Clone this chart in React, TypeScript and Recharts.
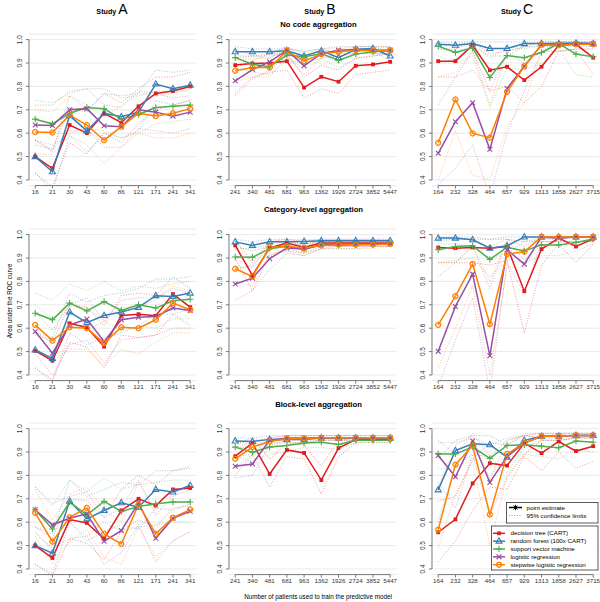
import React from 'react';
import { LineChart, Line, XAxis, YAxis, CartesianGrid, ReferenceLine } from 'recharts';

// tick labels (training set sizes) per study
const nA = ['16', '21', '30', '43', '60', '86', '121', '171', '241', '341'];
const nB = ['241', '340', '481', '681', '963', '1362', '1926', '2724', '3852', '5447'];
const nC = ['164', '232', '328', '464', '657', '929', '1313', '1858', '2627', '3715'];

const methods = [
  'decision tree (CART)',
  'random forest (100x CART)',
  'support vector machine',
  'logistic regression',
  'stepwise logistic regression',
];
const colors = ['#E41A1C', '#377EB8', '#4DAF4A', '#984EA3', '#FF7F00'];
const yTicks = [0.4, 0.5, 0.6, 0.7, 0.8, 0.9, 1.0];
const studies = ['A', 'B', 'C'];
const aggregations = ['No code aggregation', 'Category-level aggregation', 'Block-level aggregation'];

// rows: tree, forest, svm, logistic, stepwise
// --- no code aggregation ---
const a1Est = [
  [0.50, 0.45, 0.635, 0.60, 0.685, 0.645, 0.715, 0.77, 0.78, 0.80],
  [0.50, 0.435, 0.675, 0.61, 0.685, 0.67, 0.69, 0.81, 0.79, 0.805],
  [0.66, 0.64, 0.685, 0.71, 0.705, 0.66, 0.68, 0.71, 0.715, 0.72],
  [0.635, 0.633, 0.70, 0.705, 0.632, 0.628, 0.70, 0.69, 0.673, 0.69],
  [0.605, 0.603, 0.677, 0.635, 0.57, 0.628, 0.685, 0.673, 0.685, 0.705],
];
const a1Lo = [
  [0.43, 0.37, 0.56, 0.51, 0.60, 0.56, 0.64, 0.70, 0.72, 0.74],
  [0.43, 0.35, 0.59, 0.52, 0.60, 0.58, 0.61, 0.74, 0.72, 0.74],
  [0.57, 0.55, 0.60, 0.62, 0.61, 0.58, 0.60, 0.64, 0.65, 0.66],
  [0.55, 0.53, 0.61, 0.62, 0.54, 0.54, 0.62, 0.61, 0.60, 0.62],
  [0.51, 0.51, 0.59, 0.55, 0.47, 0.54, 0.60, 0.58, 0.58, 0.60],
];
const a1Hi = [
  [0.57, 0.53, 0.71, 0.69, 0.77, 0.73, 0.79, 0.84, 0.84, 0.86],
  [0.57, 0.52, 0.76, 0.70, 0.77, 0.76, 0.77, 0.87, 0.86, 0.87],
  [0.74, 0.73, 0.77, 0.79, 0.79, 0.75, 0.76, 0.78, 0.78, 0.78],
  [0.72, 0.72, 0.78, 0.79, 0.72, 0.71, 0.78, 0.77, 0.75, 0.76],
  [0.70, 0.69, 0.76, 0.72, 0.67, 0.72, 0.77, 0.76, 0.77, 0.79],
];

const b1Est = [
  [0.891, 0.898, 0.90, 0.908, 0.795, 0.841, 0.82, 0.888, 0.894, 0.905],
  [0.948, 0.948, 0.948, 0.952, 0.93, 0.952, 0.923, 0.959, 0.962, 0.93],
  [0.923, 0.895, 0.884, 0.934, 0.927, 0.94, 0.912, 0.938, 0.948, 0.952],
  [0.824, 0.872, 0.905, 0.955, 0.888, 0.94, 0.955, 0.958, 0.955, 0.955],
  [0.867, 0.881, 0.881, 0.952, 0.908, 0.938, 0.948, 0.955, 0.952, 0.955],
];
const b1Lo = [
  [0.77, 0.84, 0.86, 0.87, 0.75, 0.79, 0.77, 0.85, 0.86, 0.87],
  [0.92, 0.93, 0.93, 0.94, 0.91, 0.94, 0.90, 0.95, 0.95, 0.91],
  [0.88, 0.86, 0.85, 0.91, 0.90, 0.92, 0.88, 0.92, 0.93, 0.94],
  [0.76, 0.83, 0.87, 0.93, 0.85, 0.92, 0.94, 0.94, 0.94, 0.94],
  [0.82, 0.84, 0.84, 0.93, 0.87, 0.92, 0.93, 0.94, 0.94, 0.94],
];
const b1Hi = [
  [0.93, 0.93, 0.94, 0.94, 0.84, 0.89, 0.87, 0.92, 0.93, 0.94],
  [0.97, 0.96, 0.96, 0.96, 0.95, 0.96, 0.94, 0.97, 0.97, 0.95],
  [0.96, 0.93, 0.92, 0.96, 0.95, 0.96, 0.94, 0.96, 0.96, 0.97],
  [0.88, 0.91, 0.94, 0.97, 0.92, 0.96, 0.97, 0.97, 0.97, 0.97],
  [0.91, 0.92, 0.92, 0.97, 0.94, 0.96, 0.96, 0.97, 0.97, 0.97],
];

const c1Est = [
  [0.908, 0.908, 0.976, 0.869, 0.884, 0.827, 0.884, 0.976, 0.98, 0.923],
  [0.98, 0.976, 0.983, 0.962, 0.962, 0.983, 0.983, 0.983, 0.985, 0.983],
  [0.972, 0.945, 0.965, 0.838, 0.932, 0.923, 0.945, 0.983, 0.938, 0.927],
  [0.514, 0.649, 0.73, 0.531, 0.791, 0.886, 0.978, 0.978, 0.983, 0.983],
  [0.559, 0.744, 0.599, 0.581, 0.777, 0.886, 0.978, 0.976, 0.98, 0.98],
];
const c1Lo = [
  [0.84, 0.84, 0.95, 0.78, 0.80, 0.73, 0.80, 0.95, 0.96, 0.85],
  [0.96, 0.95, 0.97, 0.93, 0.93, 0.97, 0.97, 0.97, 0.97, 0.97],
  [0.93, 0.90, 0.93, 0.71, 0.88, 0.87, 0.90, 0.96, 0.85, 0.84],
  [0.38, 0.45, 0.55, 0.33, 0.60, 0.78, 0.95, 0.95, 0.96, 0.96],
  [0.40, 0.61, 0.42, 0.40, 0.63, 0.73, 0.95, 0.95, 0.96, 0.96],
];
const c1Hi = [
  [0.96, 0.96, 0.99, 0.94, 0.95, 0.90, 0.95, 0.99, 0.99, 0.98],
  [0.99, 0.99, 0.99, 0.99, 0.99, 0.99, 0.99, 0.99, 0.99, 0.99],
  [0.99, 0.98, 0.99, 0.92, 0.97, 0.96, 0.98, 0.99, 0.98, 0.98],
  [0.72, 0.84, 0.87, 0.78, 0.95, 0.97, 0.99, 0.99, 0.99, 0.99],
  [0.84, 0.86, 0.95, 0.72, 0.95, 0.97, 0.99, 0.99, 0.99, 0.99],
];

// --- category-level aggregation ---
const a2Est = [
  [0.503, 0.461, 0.621, 0.603, 0.521, 0.654, 0.66, 0.653, 0.746, 0.69],
  [0.507, 0.471, 0.669, 0.624, 0.654, 0.669, 0.689, 0.739, 0.736, 0.75],
  [0.664, 0.636, 0.707, 0.674, 0.714, 0.676, 0.70, 0.686, 0.717, 0.724],
  [0.586, 0.493, 0.614, 0.639, 0.543, 0.636, 0.647, 0.65, 0.686, 0.676],
  [0.614, 0.547, 0.604, 0.60, 0.536, 0.604, 0.60, 0.636, 0.707, 0.679],
];
const a2Lo = [
  [0.43, 0.38, 0.54, 0.52, 0.43, 0.57, 0.56, 0.57, 0.66, 0.61],
  [0.43, 0.37, 0.58, 0.53, 0.56, 0.58, 0.61, 0.66, 0.66, 0.68],
  [0.57, 0.55, 0.62, 0.59, 0.63, 0.59, 0.61, 0.60, 0.64, 0.64],
  [0.49, 0.40, 0.53, 0.55, 0.45, 0.55, 0.56, 0.57, 0.60, 0.60],
  [0.52, 0.46, 0.51, 0.51, 0.44, 0.51, 0.49, 0.54, 0.58, 0.58],
];
const a2Hi = [
  [0.58, 0.54, 0.70, 0.69, 0.61, 0.74, 0.75, 0.74, 0.82, 0.77],
  [0.58, 0.56, 0.75, 0.71, 0.74, 0.75, 0.77, 0.81, 0.81, 0.82],
  [0.75, 0.72, 0.79, 0.76, 0.80, 0.76, 0.78, 0.77, 0.79, 0.80],
  [0.67, 0.59, 0.70, 0.73, 0.63, 0.72, 0.73, 0.73, 0.77, 0.75],
  [0.70, 0.64, 0.69, 0.69, 0.63, 0.69, 0.69, 0.72, 0.78, 0.76],
];

const b2Est = [
  [0.954, 0.826, 0.943, 0.964, 0.946, 0.964, 0.964, 0.964, 0.964, 0.964],
  [0.969, 0.954, 0.969, 0.969, 0.971, 0.974, 0.974, 0.974, 0.974, 0.974],
  [0.904, 0.903, 0.94, 0.95, 0.936, 0.957, 0.954, 0.957, 0.96, 0.961],
  [0.789, 0.814, 0.897, 0.943, 0.939, 0.957, 0.96, 0.96, 0.961, 0.961],
  [0.854, 0.821, 0.946, 0.95, 0.943, 0.954, 0.957, 0.957, 0.957, 0.96],
];
const b2Lo = [
  [0.90, 0.76, 0.91, 0.94, 0.92, 0.95, 0.95, 0.95, 0.95, 0.95],
  [0.95, 0.93, 0.95, 0.95, 0.96, 0.96, 0.96, 0.96, 0.96, 0.96],
  [0.86, 0.86, 0.91, 0.93, 0.91, 0.94, 0.94, 0.94, 0.95, 0.95],
  [0.72, 0.76, 0.85, 0.92, 0.91, 0.94, 0.95, 0.95, 0.95, 0.95],
  [0.80, 0.78, 0.92, 0.93, 0.92, 0.94, 0.94, 0.94, 0.94, 0.95],
];
const b2Hi = [
  [0.98, 0.88, 0.97, 0.98, 0.97, 0.98, 0.98, 0.98, 0.98, 0.98],
  [0.98, 0.97, 0.98, 0.98, 0.98, 0.98, 0.98, 0.98, 0.98, 0.98],
  [0.94, 0.94, 0.96, 0.97, 0.96, 0.97, 0.97, 0.97, 0.97, 0.97],
  [0.85, 0.87, 0.94, 0.96, 0.96, 0.97, 0.97, 0.97, 0.97, 0.97],
  [0.90, 0.86, 0.97, 0.97, 0.96, 0.97, 0.97, 0.97, 0.97, 0.97],
];

const c2Est = [
  [0.945, 0.942, 0.945, 0.942, 0.949, 0.758, 0.938, 0.985, 0.949, 0.982],
  [0.985, 0.985, 0.978, 0.942, 0.952, 0.99, 0.99, 0.99, 0.99, 0.99],
  [0.935, 0.949, 0.952, 0.894, 0.946, 0.93, 0.956, 0.956, 0.966, 0.981],
  [0.501, 0.693, 0.831, 0.482, 0.935, 0.874, 0.99, 0.985, 0.99, 0.99],
  [0.614, 0.737, 0.874, 0.617, 0.917, 0.927, 0.99, 0.99, 0.99, 0.99],
];
const c2Lo = [
  [0.88, 0.88, 0.88, 0.87, 0.89, 0.58, 0.87, 0.96, 0.88, 0.96],
  [0.96, 0.96, 0.95, 0.90, 0.92, 0.97, 0.97, 0.97, 0.97, 0.97],
  [0.88, 0.89, 0.90, 0.82, 0.89, 0.88, 0.91, 0.91, 0.93, 0.96],
  [0.35, 0.55, 0.73, 0.33, 0.88, 0.75, 0.97, 0.97, 0.97, 0.97],
  [0.43, 0.60, 0.78, 0.40, 0.86, 0.86, 0.97, 0.97, 0.97, 0.97],
];
const c2Hi = [
  [0.98, 0.98, 0.98, 0.98, 0.98, 0.89, 0.98, 0.99, 0.99, 0.99],
  [0.99, 0.99, 0.99, 0.98, 0.99, 0.99, 0.99, 0.99, 0.99, 0.99],
  [0.97, 0.98, 0.98, 0.95, 0.98, 0.97, 0.98, 0.98, 0.99, 0.99],
  [0.82, 0.88, 0.95, 0.77, 0.98, 0.95, 0.99, 0.99, 0.99, 0.99],
  [0.88, 0.88, 0.95, 0.80, 0.98, 0.97, 0.99, 0.99, 0.99, 0.99],
];

// --- block-level aggregation ---
const a3Est = [
  [0.50, 0.447, 0.611, 0.597, 0.529, 0.65, 0.70, 0.671, 0.74, 0.746],
  [0.50, 0.467, 0.69, 0.614, 0.65, 0.683, 0.664, 0.74, 0.729, 0.757],
  [0.653, 0.571, 0.686, 0.631, 0.689, 0.646, 0.667, 0.679, 0.686, 0.686],
  [0.653, 0.589, 0.617, 0.636, 0.519, 0.564, 0.683, 0.531, 0.617, 0.647],
  [0.64, 0.517, 0.621, 0.661, 0.55, 0.507, 0.676, 0.55, 0.619, 0.654],
];
const a3Lo = [
  [0.42, 0.37, 0.53, 0.51, 0.44, 0.56, 0.61, 0.58, 0.66, 0.67],
  [0.42, 0.38, 0.60, 0.52, 0.56, 0.59, 0.57, 0.66, 0.65, 0.68],
  [0.56, 0.48, 0.60, 0.54, 0.60, 0.56, 0.58, 0.59, 0.60, 0.60],
  [0.55, 0.49, 0.53, 0.54, 0.42, 0.47, 0.59, 0.43, 0.52, 0.56],
  [0.54, 0.42, 0.52, 0.57, 0.45, 0.42, 0.58, 0.45, 0.52, 0.56],
];
const a3Hi = [
  [0.58, 0.53, 0.70, 0.69, 0.62, 0.74, 0.80, 0.76, 0.82, 0.83],
  [0.58, 0.55, 0.78, 0.71, 0.74, 0.77, 0.76, 0.82, 0.82, 0.84],
  [0.75, 0.67, 0.78, 0.73, 0.79, 0.74, 0.76, 0.77, 0.78, 0.78],
  [0.75, 0.68, 0.71, 0.73, 0.62, 0.66, 0.78, 0.63, 0.71, 0.74],
  [0.74, 0.61, 0.72, 0.75, 0.65, 0.60, 0.77, 0.65, 0.72, 0.75],
];

const b3Est = [
  [0.882, 0.938, 0.806, 0.909, 0.896, 0.78, 0.917, 0.953, 0.953, 0.953],
  [0.947, 0.945, 0.954, 0.954, 0.954, 0.96, 0.96, 0.96, 0.96, 0.96],
  [0.921, 0.899, 0.921, 0.928, 0.938, 0.942, 0.932, 0.95, 0.95, 0.95],
  [0.839, 0.849, 0.95, 0.96, 0.96, 0.961, 0.961, 0.961, 0.961, 0.961],
  [0.871, 0.921, 0.945, 0.957, 0.957, 0.961, 0.961, 0.961, 0.961, 0.961],
];
const b3Lo = [
  [0.80, 0.89, 0.75, 0.88, 0.87, 0.72, 0.88, 0.94, 0.94, 0.94],
  [0.92, 0.92, 0.94, 0.94, 0.94, 0.95, 0.95, 0.95, 0.95, 0.95],
  [0.88, 0.86, 0.89, 0.90, 0.92, 0.92, 0.91, 0.94, 0.94, 0.94],
  [0.79, 0.80, 0.93, 0.95, 0.95, 0.95, 0.95, 0.95, 0.95, 0.95],
  [0.83, 0.89, 0.93, 0.94, 0.94, 0.95, 0.95, 0.95, 0.95, 0.95],
];
const b3Hi = [
  [0.93, 0.96, 0.87, 0.94, 0.93, 0.84, 0.95, 0.96, 0.96, 0.96],
  [0.96, 0.96, 0.97, 0.97, 0.97, 0.97, 0.97, 0.97, 0.97, 0.97],
  [0.95, 0.93, 0.95, 0.95, 0.96, 0.96, 0.95, 0.96, 0.96, 0.96],
  [0.88, 0.89, 0.96, 0.97, 0.97, 0.97, 0.97, 0.97, 0.97, 0.97],
  [0.91, 0.95, 0.96, 0.97, 0.97, 0.97, 0.97, 0.97, 0.97, 0.97],
];

const c3Est = [
  [0.557, 0.612, 0.766, 0.852, 0.842, 0.938, 0.895, 0.945, 0.904, 0.925],
  [0.738, 0.906, 0.935, 0.931, 0.878, 0.95, 0.967, 0.968, 0.971, 0.971],
  [0.892, 0.892, 0.921, 0.873, 0.928, 0.931, 0.925, 0.918, 0.947, 0.942],
  [0.885, 0.794, 0.947, 0.77, 0.881, 0.938, 0.967, 0.968, 0.971, 0.971],
  [0.568, 0.846, 0.928, 0.633, 0.892, 0.938, 0.967, 0.967, 0.971, 0.971],
];
const c3Lo = [
  [0.43, 0.52, 0.65, 0.75, 0.74, 0.88, 0.82, 0.90, 0.83, 0.86],
  [0.60, 0.84, 0.89, 0.88, 0.81, 0.92, 0.95, 0.95, 0.96, 0.96],
  [0.83, 0.83, 0.87, 0.80, 0.88, 0.89, 0.88, 0.87, 0.91, 0.90],
  [0.77, 0.66, 0.89, 0.63, 0.79, 0.89, 0.95, 0.95, 0.96, 0.96],
  [0.49, 0.72, 0.86, 0.50, 0.80, 0.89, 0.95, 0.95, 0.96, 0.96],
];
const c3Hi = [
  [0.69, 0.71, 0.87, 0.94, 0.93, 0.97, 0.96, 0.98, 0.96, 0.97],
  [0.87, 0.95, 0.97, 0.97, 0.93, 0.98, 0.98, 0.98, 0.98, 0.98],
  [0.94, 0.94, 0.96, 0.93, 0.96, 0.97, 0.96, 0.96, 0.98, 0.97],
  [0.95, 0.89, 0.98, 0.88, 0.95, 0.97, 0.98, 0.98, 0.98, 0.98],
  [0.75, 0.93, 0.97, 0.78, 0.95, 0.97, 0.98, 0.98, 0.98, 0.98],
];

const FONT = '"Liberation Sans", Arial, sans-serif';
const YW = 24; // y axis width
const XH = 16; // x axis height
const MT = 4;
const PLOT_W = 167.4;
const PLOT_H = 151.6;
const colLeft = [28.8, 228.8, 432.1];
const rowTop = [33.6, 229.4, 423.4];
const idx = [0, 1, 2, 3, 4, 5, 6, 7, 8, 9];

const Marker = ({ kind, cx, cy, color }: any) => {
  if (cx == null || cy == null) return null;
  if (kind === 0) {
    return <rect x={cx - 1.9} y={cy - 1.9} width={3.8} height={3.8} fill={color} />;
  }
  if (kind === 1) {
    return (
      <polygon
        points={`${cx},${cy - 3.3} ${cx + 3},${cy + 2} ${cx - 3},${cy + 2}`}
        fill="none"
        stroke={color}
        strokeWidth={1.1}
      />
    );
  }
  if (kind === 2) {
    return <path d={`M${cx - 3.2},${cy}H${cx + 3.2}M${cx},${cy - 3.2}V${cy + 3.2}`} stroke={color} strokeWidth={1.1} />;
  }
  if (kind === 3) {
    return (
      <path
        d={`M${cx - 2.4},${cy - 2.4}L${cx + 2.4},${cy + 2.4}M${cx - 2.4},${cy + 2.4}L${cx + 2.4},${cy - 2.4}`}
        stroke={color}
        strokeWidth={1.1}
      />
    );
  }
  return (
    <g>
      <circle cx={cx} cy={cy} r={2.7} fill="none" stroke={color} strokeWidth={1} />
      <path
        d={`M${cx},${cy - 2.7}L${cx + 2.7},${cy}L${cx},${cy + 2.7}L${cx - 2.7},${cy}Z`}
        fill="none"
        stroke={color}
        strokeWidth={0.9}
      />
    </g>
  );
};

const YTick = ({ x, y, payload }: any) => (
  <text
    x={x - 4}
    y={y}
    transform={`rotate(-90, ${x - 4}, ${y})`}
    textAnchor="middle"
    dy="0.35em"
    fontSize={6.5}
    fontFamily={FONT}
    fill="#333"
  >
    {Number(payload.value).toFixed(1)}
  </text>
);

type PanelProps = {
  left: number;
  top: number;
  labels: string[];
  est: number[][];
  lo: number[][];
  hi: number[][];
};

const Panel = ({ left, top, labels, est, lo, hi }: PanelProps) => {
  const data = labels.map((_, i) => {
    const row: any = { i };
    est.forEach((s, k) => {
      row['e' + k] = s[i];
      row['l' + k] = lo[k][i];
      row['h' + k] = hi[k][i];
    });
    return row;
  });

  return (
    <div style={{ position: 'absolute', left: left - YW, top: top - MT }}>
      <LineChart
        width={YW + PLOT_W + 1}
        height={MT + PLOT_H + XH}
        data={data}
        margin={{ top: MT, right: 1, bottom: 0, left: 0 }}
      >
        <CartesianGrid vertical={false} stroke="#e4e4e4" strokeWidth={0.8} />
        <XAxis
          dataKey="i"
          type="number"
          domain={[-0.36, 9.36]}
          allowDataOverflow
          ticks={idx}
          interval={0}
          tickFormatter={(v: number) => labels[v]}
          axisLine={false}
          tickSize={3}
          tickMargin={1.3}
          height={XH}
          tick={{ fontSize: 6.2, fill: '#333', fontFamily: FONT }}
          tickLine={{ stroke: '#777' }}
        />
        <YAxis
          type="number"
          domain={[0.376, 1.024]}
          allowDataOverflow
          ticks={yTicks}
          interval={0}
          axisLine={false}
          tickSize={3}
          width={YW}
          tick={<YTick />}
          tickLine={{ stroke: '#777' }}
        />
        <ReferenceLine segment={[{ x: -0.36, y: 0.4 }, { x: -0.36, y: 1 }]} stroke="#777" ifOverflow="visible" />
        <ReferenceLine segment={[{ x: 0, y: 0.376 }, { x: 9, y: 0.376 }]} stroke="#777" ifOverflow="visible" />
        {colors.map((c, k) => (
          <Line
            key={'lo' + k}
            dataKey={'l' + k}
            stroke={c}
            strokeOpacity={0.5}
            strokeWidth={0.9}
            strokeDasharray="1 1.6"
            dot={false}
            activeDot={false}
            isAnimationActive={false}
          />
        ))}
        {colors.map((c, k) => (
          <Line
            key={'hi' + k}
            dataKey={'h' + k}
            stroke={c}
            strokeOpacity={0.5}
            strokeWidth={0.9}
            strokeDasharray="1 1.6"
            dot={false}
            activeDot={false}
            isAnimationActive={false}
          />
        ))}
        {colors.map((c, k) => (
          <Line
            key={'est' + k}
            dataKey={'e' + k}
            stroke={c}
            strokeWidth={1.5}
            dot={(p: any) => <Marker key={'m' + k + '-' + p.index} kind={k} cx={p.cx} cy={p.cy} color={c} />}
            activeDot={false}
            isAnimationActive={false}
          />
        ))}
      </LineChart>
    </div>
  );
};

const panels = [
  [nA, a1Est, a1Lo, a1Hi],
  [nB, b1Est, b1Lo, b1Hi],
  [nC, c1Est, c1Lo, c1Hi],
  [nA, a2Est, a2Lo, a2Hi],
  [nB, b2Est, b2Lo, b2Hi],
  [nC, c2Est, c2Lo, c2Hi],
  [nA, a3Est, a3Lo, a3Hi],
  [nB, b3Est, b3Lo, b3Hi],
  [nC, c3Est, c3Lo, c3Hi],
] as any[];

const studyX = [112, 320, 517];
const aggY = [27, 212, 407];
const aggX = [318.5, 313.5, 318.5];

const App = () => {
  return (
    <div
      style={{
        position: 'absolute',
        left: 0,
        top: 0,
        width: 600,
        height: 602,
        overflow: 'hidden',
        background: '#fff',
        fontFamily: FONT,
      }}
    >
      {panels.map((p, n) => (
        <Panel
          key={n}
          left={colLeft[n % 3]}
          top={rowTop[Math.floor(n / 3)]}
          labels={p[0]}
          est={p[1]}
          lo={p[2]}
          hi={p[3]}
        />
      ))}

      <svg
        width={600}
        height={602}
        style={{ position: 'absolute', left: 0, top: 0, pointerEvents: 'none' }}
        fontFamily={FONT}
      >
        {studies.map((s, i) => (
          <text key={s} x={studyX[i]} y={13.5} textAnchor="middle" fill="#000">
            <tspan fontSize={7.2} fontWeight="bold">Study </tspan>
            <tspan fontSize={14}>{s}</tspan>
          </text>
        ))}
        {aggregations.map((a, i) => (
          <text key={a} x={aggX[i]} y={aggY[i]} textAnchor="middle" fontSize={7.7} fontWeight="bold" fill="#000">
            {a}
          </text>
        ))}
        <text x={10} y={301} transform="rotate(-90, 10, 301)" textAnchor="middle" dy="0.35em" fontSize={6.3} fill="#000">
          Area under the ROC curve
        </text>
        <text x={318} y={599} textAnchor="middle" fontSize={6.3} fill="#000">
          Number of patients used to train the predictive model
        </text>

        {/* legend: estimate vs confidence limits */}
        <rect x={506.5} y={502.5} width={91.5} height={20.5} fill="#fff" stroke="#333" strokeWidth={0.8} />
        <line x1={509} x2={522} y1={507.5} y2={507.5} stroke="#000" strokeWidth={1.5} />
        <path d="M512.8,507.5H518.2M515.5,504.8V510.2M513.6,505.6L517.4,509.4M513.6,509.4L517.4,505.6" stroke="#000" strokeWidth={1} />
        <text x={526.5} y={507.5} dy="0.35em" fontSize={6.2} fill="#000">point estimate</text>
        <line x1={509} x2={522} y1={515.5} y2={515.5} stroke="#888" strokeWidth={0.9} strokeDasharray="1 1.6" />
        <text x={526.5} y={515.5} dy="0.35em" fontSize={6.2} fill="#000">95% confidence limits</text>

        {/* legend: methods */}
        <rect x={491.5} y={526} width={106.5} height={44} fill="#fff" stroke="#333" strokeWidth={0.8} />
        {methods.map((m, k) => {
          const y = 533.3 + k * 7.85;
          return (
            <g key={m}>
              <line x1={493} x2={505} y1={y} y2={y} stroke={colors[k]} strokeWidth={1.5} />
              <Marker kind={k} cx={499} cy={y} color={colors[k]} />
              <text x={510.5} y={y} dy="0.35em" fontSize={6.2} fill="#000">{m}</text>
            </g>
          );
        })}
      </svg>
    </div>
  );
};

export default App;
